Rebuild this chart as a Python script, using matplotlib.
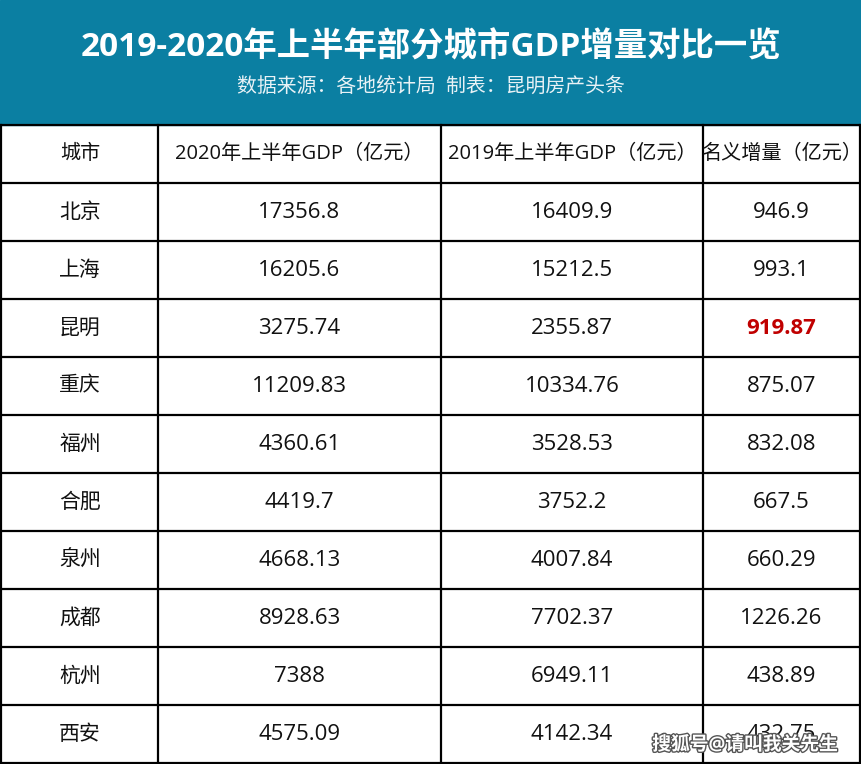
import matplotlib.pyplot as plt
import matplotlib.patheffects as pe

plt.rcParams['font.family'] = ['Open Sans', 'Noto Sans CJK SC', 'DejaVu Sans']

# table data
title = "2019-2020年上半年部分城市GDP增量对比一览"
subtitle = "数据来源：各地统计局  制表：昆明房产头条"
headers = ["城市", "2020年上半年GDP（亿元）", "2019年上半年GDP（亿元）", "名义增量（亿元）"]
cities = ["北京", "上海", "昆明", "重庆", "福州", "合肥", "泉州", "成都", "杭州", "西安"]
gdp_2020 = ["17356.8", "16205.6", "3275.74", "11209.83", "4360.61", "4419.7",
            "4668.13", "8928.63", "7388", "4575.09"]
gdp_2019 = ["16409.9", "15212.5", "2355.87", "10334.76", "3528.53", "3752.2",
            "4007.84", "7702.37", "6949.11", "4142.34"]
increase = ["946.9", "993.1", "919.87", "875.07", "832.08", "667.5",
            "660.29", "1226.26", "438.89", "432.75"]
highlight = "昆明"

W, H = 861, 764
fig = plt.figure(figsize=(W / 100, H / 100), dpi=100)
ax = fig.add_axes([0, 0, 1, 1])
ax.set_xlim(0, W)
ax.set_ylim(H, 0)
ax.axis('off')

# header band
ax.add_patch(plt.Rectangle((0, 0), W, 125, color='#0b7fa2', zorder=0))
ax.text(W / 2, 48, title, ha='center', va='center', color='white',
        fontsize=24, fontweight='bold')
ax.text(W / 2, 87, subtitle, ha='center', va='center', color='#e8f2f6',
        fontsize=14.3)

# grid
col_edges = [1, 158, 441, 703, 860]
top = 125
row_h = 58
n_rows = len(cities) + 1
for i in range(n_rows + 1):
    y = top + i * row_h
    ax.plot([col_edges[0], col_edges[-1]], [y, y], color='black', lw=1.6, zorder=2)
for x in col_edges:
    ax.plot([x, x], [top, top + n_rows * row_h], color='black', lw=1.6, zorder=2)

centers = [(col_edges[j] + col_edges[j + 1]) / 2 for j in range(4)]
centers[0] = 80

# header row
for j, h in enumerate(headers):
    ax.text(centers[j], top + row_h / 2, h, ha='center', va='center',
            fontsize=14.5, color='#111111')

# body rows
for i, city in enumerate(cities):
    y = top + (i + 1) * row_h + row_h / 2
    row = [city, gdp_2020[i], gdp_2019[i], increase[i]]
    for j, val in enumerate(row):
        kw = dict(color='#111111')
        if j == 3 and city == highlight:
            kw = dict(color='#c00000', fontweight='bold')
        size = 15 if j == 0 else 16
        ax.text(centers[j], y, val, ha='center', va='center', fontsize=size, **kw)

# watermark
ax.text(745, 745, "搜狐号@请叫我关先生", ha='center', va='center', fontsize=13.5,
        color='white', fontweight='bold', zorder=5,
        path_effects=[pe.withStroke(linewidth=2, foreground='#555555')])

fig.savefig('out.png', dpi=100)
